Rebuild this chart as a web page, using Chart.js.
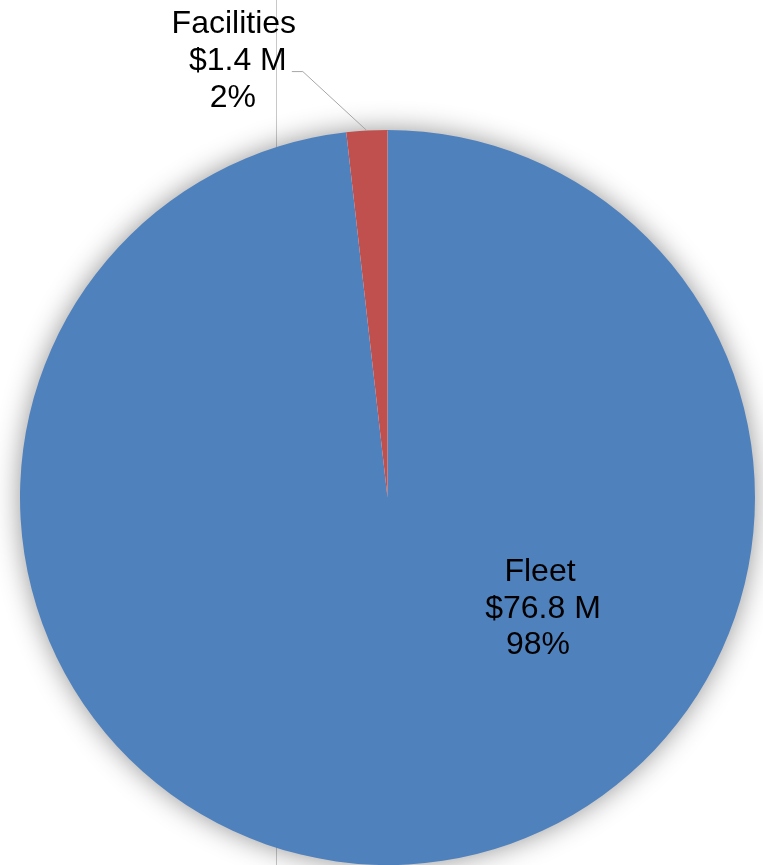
<!DOCTYPE html>
<html>
<head>
<meta charset="utf-8">
<script src="https://cdn.jsdelivr.net/npm/chart.js@4.4.0/dist/chart.umd.min.js"></script>
<style>
  html, body { margin: 0; padding: 0; background: #fff; }
  #wrap { width: 763px; height: 865px; }
</style>
</head>
<body>
<div id="wrap"><canvas id="mycanvas" width="763" height="865"></canvas></div>
<script>
var categories = ['Fleet', 'Facilities'];
var amounts = [76.8, 1.4];          // $ millions
var percents = ['98%', '2%'];
var colors = ['#4F81BD', '#C0504D'];

var FONT = '32px "Liberation Sans", Arial, sans-serif';

// grey guide line and the soft shadow under the pie
var backdrop = {
	id: 'backdrop',
	beforeDatasetsDraw: function(chart) {
		var ctx = chart.ctx;
		var arc = chart.getDatasetMeta(0).data[0];
		ctx.save();
		ctx.strokeStyle = '#C8C8C8';
		ctx.lineWidth = 1;
		ctx.beginPath();
		ctx.moveTo(276.5, 0);
		ctx.lineTo(276.5, chart.height);
		ctx.stroke();

		ctx.shadowColor = 'rgba(0,0,0,0.45)';
		ctx.shadowBlur = 28;
		ctx.fillStyle = '#ffffff';
		ctx.beginPath();
		ctx.arc(arc.x, arc.y, arc.outerRadius - 1, 0, Math.PI * 2);
		ctx.fill();
		ctx.restore();
	}
};

var sliceLabels = {
	id: 'sliceLabels',
	afterDatasetsDraw: function(chart) {
		var ctx = chart.ctx;
		var meta = chart.getDatasetMeta(0);
		ctx.save();
		ctx.font = FONT;
		ctx.fillStyle = '#000';
		ctx.textAlign = 'center';
		ctx.textBaseline = 'middle';

		// big slice: label inside
		var a = meta.data[0];
		var r = a.outerRadius;
		var fx = a.x + 0.415 * r, fy = a.y + 0.303 * r;
		ctx.fillText(categories[0], fx, fy - 37);
		ctx.fillText('$' + amounts[0].toFixed(1) + ' M', fx + 3, fy);
		ctx.fillText(percents[0], fx - 2, fy + 36);

		// small slice: label outside with leader line
		var b = meta.data[1];
		var mid = (b.startAngle + b.endAngle) / 2;
		var ex = b.x + Math.cos(mid) * b.outerRadius;
		var ey = b.y + Math.sin(mid) * b.outerRadius;
		var kx = ex - 64, ky = ey - 59;
		ctx.strokeStyle = '#A6A6A6';
		ctx.lineWidth = 1;
		ctx.beginPath();
		ctx.moveTo(ex, ey);
		ctx.lineTo(kx, ky);
		ctx.lineTo(kx - 11, ky);
		ctx.stroke();

		var lx = kx - 69;
		ctx.fillText(categories[1], lx, ky - 47);
		ctx.fillText('$' + amounts[1].toFixed(1) + ' M', lx + 4, ky - 10);
		ctx.fillText(percents[1], lx - 1, ky + 27);
		ctx.restore();
	}
};

var chartdata = {
	labels: categories,
	datasets: [{
		data: amounts,
		backgroundColor: colors,
		borderWidth: 0
	}]
};

var ctx = document.getElementById('mycanvas');
new Chart(ctx, {
	type: 'pie',
	data: chartdata,
	options: {
		responsive: false,
		animation: false,
		layout: { padding: { top: 130, bottom: 0, left: 20, right: 8 } },
		plugins: {
			legend: { display: false },
			tooltip: { enabled: false }
		}
	},
	plugins: [backdrop, sliceLabels]
});
</script>
</body>
</html>
